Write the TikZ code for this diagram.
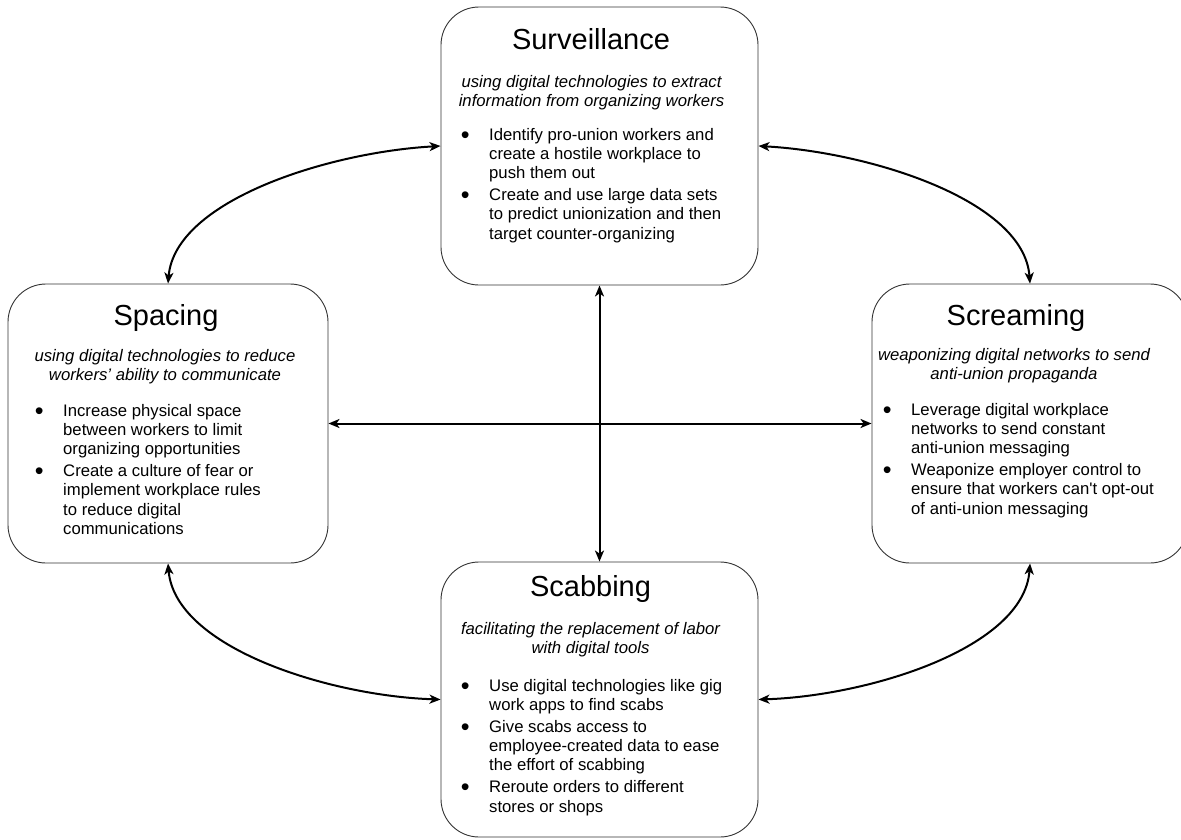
\documentclass[tikz,border=0pt]{standalone}
\usepackage{fontspec}
\setmainfont{Liberation Sans}
\usetikzlibrary{arrows.meta}

\tikzset{
  panel/.style={draw=black!80, line width=0.9pt, rounded corners=38pt, inner sep=0pt},
  head/.style={font=\fontsize{29}{34}\selectfont, inner sep=0pt, anchor=base},
  blurb/.style={font=\fontsize{16.7}{19.3}\selectfont\itshape, inner sep=0pt, anchor=north},
  points/.style={font=\fontsize{16.7}{19.3}\selectfont, inner sep=0pt, anchor=north west},
  tip/.tip={Stealth[length=11pt,width=9pt,inset=3pt]},
  link/.style={line width=2pt, tip-tip}
}
\newcommand{\dotitem}{\makebox[27pt][l]{\makebox[6pt]{\raisebox{-3pt}{\scalebox{1.5}{\textbullet}}}}}

\begin{document}
\begin{tikzpicture}[x=1pt,y=-1pt]
\useasboundingbox (0,0) rectangle (1181,839);
\clip (0,0) rectangle (1181,839);

% the four boxes
\node[panel, minimum width=317pt, minimum height=278pt] (surv) at (599.5,146) {};
\node[panel, minimum width=320pt, minimum height=279pt] (spacing) at (168,423.5) {};
\node[panel, minimum width=316pt, minimum height=279pt] (scream) at (1030,423.5) {};
\node[panel, minimum width=317pt, minimum height=275pt] (scab) at (599.5,699.5) {};

% Surveillance
\node[head] (survT) at (591,49) {Surveillance};
\node[blurb] (survS) at (591.5,73.5) {\begin{tabular}{@{}c@{}}using digital technologies to extract\\information from organizing workers\end{tabular}};
\node[points] (survL) at (462,126.5) {\begin{tabular}{@{}l@{}l@{}}
\dotitem & Identify pro-union workers and\\
 & create a hostile workplace to\\
 & push them out\\[2.5pt]
\dotitem & Create and use large data sets\\
 & to predict unionization and then\\
 & target counter-organizing
\end{tabular}};

% Spacing
\node[head] (spacingT) at (166,325) {Spacing};
\node[blurb] (spacingS) at (165,347.5) {\begin{tabular}{@{}c@{}}using digital technologies to reduce\\workers’ ability to communicate\end{tabular}};
\node[points] (spacingL) at (36,402.5) {\begin{tabular}{@{}l@{}l@{}}
\dotitem & Increase physical space\\
 & between workers to limit\\
 & organizing opportunities\\[2.5pt]
\dotitem & Create a culture of fear or\\
 & implement workplace rules\\
 & to reduce digital\\
 & communications
\end{tabular}};

% Screaming
\node[head] (screamT) at (1016,325) {Screaming};
\node[blurb] (screamS) at (1014,346.5) {\begin{tabular}{@{}c@{}}weaponizing digital networks to send\\anti-union propaganda\end{tabular}};
\node[points] (screamL) at (884,401.5) {\begin{tabular}{@{}l@{}l@{}}
\dotitem & Leverage digital workplace\\
 & networks to send constant\\
 & anti-union messaging\\[2.5pt]
\dotitem & Weaponize employer control to\\
 & ensure that workers can\textquotesingle t opt-out\\
 & of anti-union messaging
\end{tabular}};

% Scabbing
\node[head] (scabT) at (590.5,596) {Scabbing};
\node[blurb] (scabS) at (590.5,620.5) {\begin{tabular}{@{}c@{}}facilitating the replacement of labor\\with digital tools\end{tabular}};
\node[points] (scabL) at (462,677.5) {\begin{tabular}{@{}l@{}l@{}}
\dotitem & Use digital technologies like gig\\
 & work apps to find scabs\\[2.5pt]
\dotitem & Give scabs access to\\
 & employee-created data to ease\\
 & the effort of scabbing\\[2.5pt]
\dotitem & Reroute orders to different\\
 & stores or shops
\end{tabular}};

% connectors
\draw[link] (surv.south) -- (scab.north);
\draw[link] (spacing.east) -- (scream.west);
\draw[link] (surv.west) .. controls (330,152) and (175,200) .. (spacing.north);
\draw[link] (surv.east) .. controls (869,152) and (1024,200) .. (scream.north);
\draw[link] (spacing.south) .. controls (175,648) and (330,696) .. (scab.west);
\draw[link] (scream.south) .. controls (1024,648) and (869,696) .. (scab.east);
\end{tikzpicture}
\end{document}
